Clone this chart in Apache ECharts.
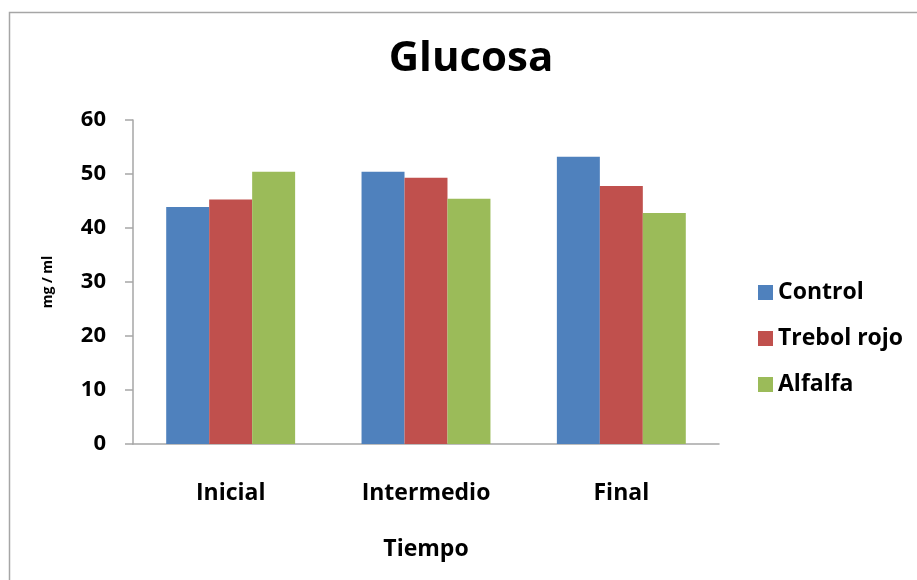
<!DOCTYPE html>
<html>
<head>
<meta charset="utf-8">
<script src="https://cdn.jsdelivr.net/npm/echarts@6/dist/echarts.min.js"></script>
<style>
  html, body { margin: 0; padding: 0; background: #ffffff; }
  #chart { width: 917px; height: 580px; }
</style>
</head>
<body>
<div id="chart"></div>
<script>
// Glucose levels (mg/ml) over time for each treatment
const categories = ['Inicial', 'Intermedio', 'Final'];
const seriesNames = ['Control', 'Trebol rojo', 'Alfalfa'];
const control = [43.9, 50.4, 53.2];
const trebolRojo = [45.3, 49.3, 47.8];
const alfalfa = [50.4, 45.4, 42.8];
const yTicks = [0, 10, 20, 30, 40, 50, 60];

const colors = ['#4f81bd', '#c0504d', '#9bbb59'];
const font = '"Open Sans", "Noto Sans", sans-serif';

const chart = echarts.init(document.getElementById('chart'), null, { renderer: 'canvas' });

const values = [control, trebolRojo, alfalfa];

chart.setOption({
  animation: false,
  backgroundColor: '#ffffff',
  graphic: [{
    type: 'rect',
    shape: { x: 9.5, y: 12.5, width: 940, height: 620 },
    style: { fill: 'none', stroke: '#a6a6a6', lineWidth: 1.5 },
    z: -1
  }],
  title: {
    text: 'Glucosa',
    left: 466,
    textAlign: 'center',
    top: 33,
    textStyle: { fontFamily: font, fontWeight: 'bold', fontSize: 42, color: '#000000' }
  },
  legend: {
    orient: 'vertical',
    left: 753,
    top: 276,
    itemWidth: 15,
    itemHeight: 15,
    itemGap: 23,
    icon: 'rect',
    data: seriesNames,
    textStyle: { fontFamily: font, fontWeight: 'bold', fontSize: 23, color: '#000000', padding: [0, 0, 0, 0] }
  },
  grid: { left: 133, right: 198, top: 120, bottom: 136, containLabel: false },
  xAxis: {
    type: 'category',
    data: categories,
    name: 'Tiempo',
    nameLocation: 'middle',
    nameGap: 94,
    nameTextStyle: { fontFamily: font, fontWeight: 'bold', fontSize: 23, color: '#000000' },
    axisLine: { lineStyle: { color: '#a6a6a6', width: 1.5 } },
    axisTick: { show: false },
    axisLabel: { margin: 38, fontFamily: font, fontWeight: 'bold', fontSize: 23, color: '#000000' }
  },
  yAxis: {
    type: 'value',
    min: yTicks[0],
    max: yTicks[yTicks.length - 1],
    interval: yTicks[1] - yTicks[0],
    name: 'mg / ml',
    nameLocation: 'middle',
    nameGap: 78,
    nameRotate: 90,
    nameTextStyle: { fontFamily: font, fontWeight: 'bold', fontSize: 14, color: '#000000' },
    splitLine: { show: false },
    axisLine: { show: true, lineStyle: { color: '#a6a6a6', width: 1.5 } },
    axisTick: { show: true, length: 8, lineStyle: { color: '#a6a6a6', width: 1.5 } },
    axisLabel: { margin: 27, fontFamily: font, fontWeight: 'bold', fontSize: 22, color: '#000000' }
  },
  series: seriesNames.map((name, i) => ({
    name: name,
    type: 'bar',
    data: values[i],
    barGap: '0%',
    barCategoryGap: '34%',
    itemStyle: { color: colors[i] }
  }))
});
</script>
</body>
</html>
